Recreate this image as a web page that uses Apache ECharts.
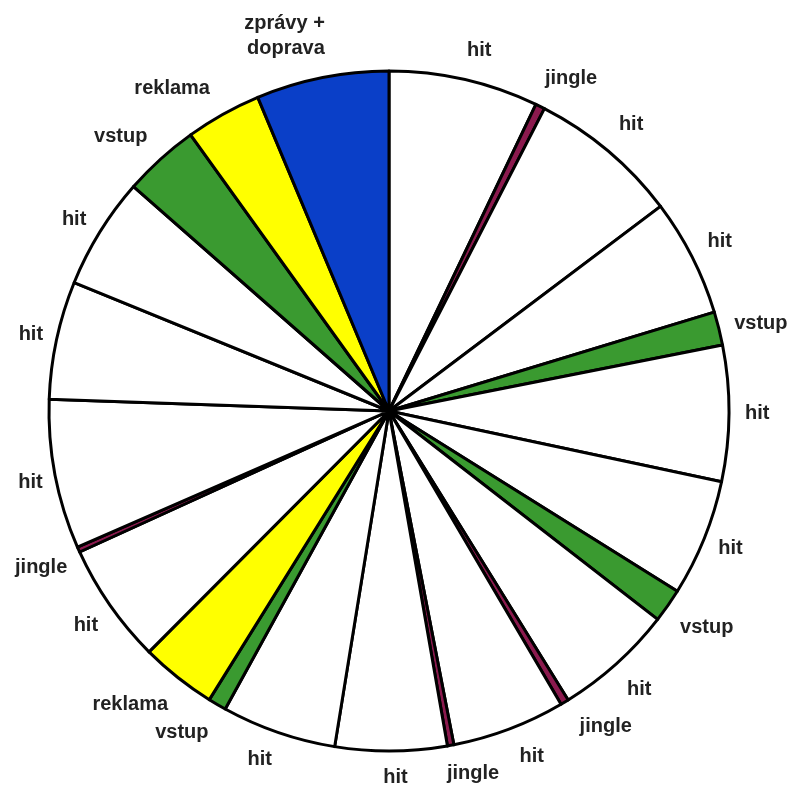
<!DOCTYPE html>
<html>
<head>
<meta charset="utf-8">
<script src="https://cdn.jsdelivr.net/npm/echarts@6/dist/echarts.min.js"></script>
<style>
html,body{margin:0;padding:0;background:#fff;}
#chart{width:797px;height:789px;}
</style>
</head>
<body>
<div id="chart"></div>
<script>
// Segment names clockwise from 12 o'clock (hour clock of a radio station)
const categories = ['hit','jingle','hit','hit','vstup','hit','hit','vstup','hit','jingle','hit','jingle',
  'hit','hit','vstup','reklama','hit','jingle','hit','hit','hit','vstup','reklama','zprávy +\ndoprava'];
// Segment sizes in degrees of the clock
const values = [25.6,1.6,25.8,20.1,5.7,23.2,20.0,5.8,20.4,1.4,19.4,1.1,
  19.1,19.6,3.1,13.0,20.6,0.9,25.6,20.2,19.1,13.0,13.0,22.7];

// Styling (not data)
const typeColors = {
  'hit': '#ffffff',
  'jingle': '#8b1a4e',
  'vstup': '#3a9a30',
  'reklama': '#ffff00',
  'zprávy +\ndoprava': '#0a3fc8'
};
const labelRadial = [30,31,34,33,22,11,28,38,35,29,29,29,26,29,33,35,35,43,39,23,23,30,29,42];
const labelShift  = [-4,-9,-11,-14,-6,5,-12,-19,-13,0,0,-9,-8,-3,-8,-12,-17,-28,-26,-9,-6,-7,-1,-11];

const data = categories.map((c, i) => ({
  name: c,
  value: values[i],
  itemStyle: { color: typeColors[c] },
  labelLine: { show: false, length: labelRadial[i], length2: 0 },
  label: { distanceToLabelLine: labelShift[i] }
}));

const chart = echarts.init(document.getElementById('chart'), null, { renderer: 'canvas' });
chart.setOption({
  animation: false,
  backgroundColor: '#ffffff',
  series: [{
    type: 'pie',
    center: [389, 411],
    radius: [0, 340],
    startAngle: 90,
    clockwise: true,
    avoidLabelOverlap: false,
    sort: null,
    emphasis: { disabled: true },
    itemStyle: { borderColor: '#000000', borderWidth: 3 },
    label: {
      show: true,
      position: 'outside',
      formatter: '{b}',
      fontFamily: 'Liberation Sans, Arial, sans-serif',
      fontWeight: 'bold',
      fontSize: 20,
      lineHeight: 25,
      color: '#222222'
    },
    labelLine: { show: false },
    data: data
  }]
});
</script>
</body>
</html>
